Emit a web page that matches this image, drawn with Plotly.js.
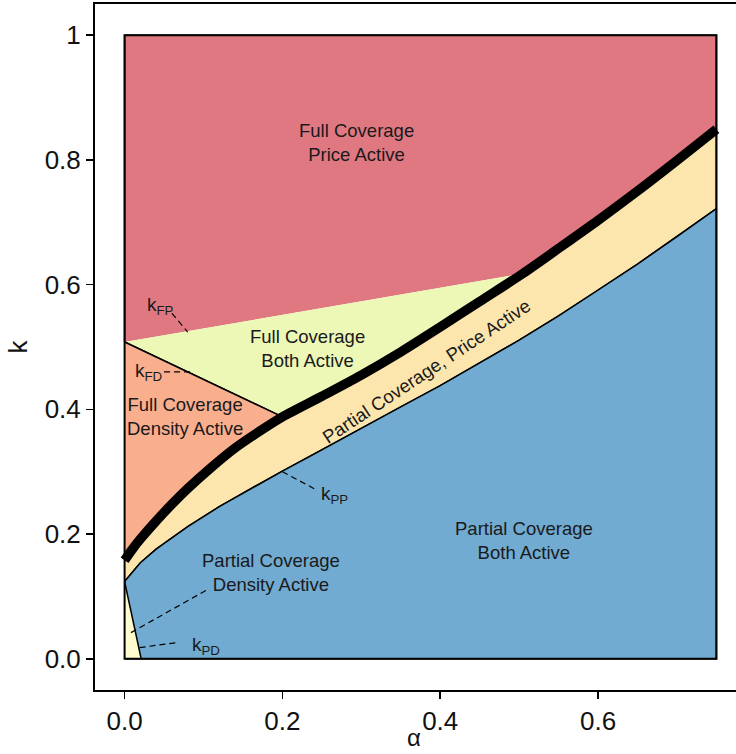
<!DOCTYPE html>
<html>
<head>
<meta charset="utf-8">
<script src="https://cdn.plot.ly/plotly-3.0.1.min.js"></script>
<style>
  html, body { margin: 0; padding: 0; background: #ffffff; overflow: hidden; }
  #chart { width: 750px; height: 754px; }
</style>
</head>
<body>
<div id="chart"></div>
<script>
// Boundary between full and partial coverage (drawn as the heavy line)
const alphaF = [0, 0.01, 0.02, 0.04, 0.06, 0.08, 0.11, 0.14, 0.17, 0.20, 0.25, 0.30, 0.35, 0.40, 0.45, 0.505, 0.55, 0.60, 0.65, 0.70, 0.75];
const kF     = [0.158, 0.176, 0.192, 0.221, 0.248, 0.273, 0.307, 0.338, 0.364, 0.388, 0.421, 0.455, 0.492, 0.532, 0.573, 0.618, 0.658, 0.703, 0.750, 0.799, 0.849];

// k_PP threshold curve
const alphaPP = [0, 0.02, 0.04, 0.08, 0.12, 0.16, 0.20, 0.25, 0.30, 0.35, 0.40, 0.45, 0.50, 0.55, 0.60, 0.65, 0.70, 0.75];
const kPP     = [0.124, 0.154, 0.176, 0.212, 0.244, 0.273, 0.301, 0.335, 0.370, 0.404, 0.438, 0.474, 0.511, 0.550, 0.591, 0.633, 0.677, 0.722];

// Straight thresholds k_FP, k_FD, k_PD (end points)
const alphaFP = [0, 0.505];
const kFPline = [0.508, 0.618];
const alphaFD = [0, 0.20];
const kFDline = [0.508, 0.388];
const alphaPD = [0, 0.021];
const kPDline = [0.124, 0];

// Domain of the diagram
const alphaMax = 0.75;
const kMax = 1;

// Axis ticks
const xTickVals = [0, 0.2, 0.4, 0.6];
const xTickText = ['0.0', '0.2', '0.4', '0.6'];
const yTickVals = [0, 0.2, 0.4, 0.6, 0.8, 1];
const yTickText = ['0.0', '0.2', '0.4', '0.6', '0.8', '1'];

const colors = {
  fullPrice:   '#E07882',
  fullBoth:    '#EDF7B6',
  fullDensity: '#F9AE8E',
  partPrice:   '#FDE6AE',
  partBoth:    '#71ABD1',
  partDensity: '#FFFCCD'
};

const iFP = alphaF.indexOf(alphaFP[1]);
const iFD = alphaF.indexOf(alphaFD[1]);
const rev = a => a.slice().reverse();

function region(x, y, fill) {
  return {
    type: 'scatter', mode: 'lines', x: x, y: y,
    fill: 'toself', fillcolor: fill,
    line: { color: '#000000', width: 1.5 },
    hoverinfo: 'skip'
  };
}

const traces = [
  // Full coverage, price active
  region(
    [alphaFP[0], 0, alphaMax].concat(rev(alphaF.slice(iFP))),
    [kFPline[0], kMax, kMax].concat(rev(kF.slice(iFP))),
    colors.fullPrice),
  // Full coverage, both active
  region(
    [alphaFD[0]].concat(alphaF.slice(iFD, iFP + 1)),
    [kFDline[0]].concat(kF.slice(iFD, iFP + 1)),
    colors.fullBoth),
  // Full coverage, density active
  region(
    [alphaFD[0]].concat(rev(alphaF.slice(0, iFD + 1))),
    [kFDline[0]].concat(rev(kF.slice(0, iFD + 1))),
    colors.fullDensity),
  // Partial coverage, price active
  region(
    alphaF.concat(rev(alphaPP)),
    kF.concat(rev(kPP)),
    colors.partPrice),
  // Partial coverage, both active
  region(
    alphaPP.concat([alphaMax, alphaPD[1]]),
    kPP.concat([0, kPDline[1]]),
    colors.partBoth),
  // Partial coverage, density active
  region(
    [0, alphaPD[1], alphaPD[0]],
    [0, kPDline[1], kPDline[0]],
    colors.partDensity),
  // Heavy full / partial coverage boundary
  {
    type: 'scatter', mode: 'lines', x: alphaF, y: kF,
    line: { color: '#000000', width: 9.5, shape: 'spline', smoothing: 0.8 },
    hoverinfo: 'skip'
  }
];

const fam = 'Liberation Sans, Arial, sans-serif';
const txtFont = { family: fam, size: 18.5, color: '#1a1a1a' };
const kFont = { family: fam, size: 19, color: '#1a1a1a' };
const titleFont = { family: fam, size: 26, color: '#111111' };

function label(x, y, text, font, angle) {
  return { x: x, y: y, xref: 'x', yref: 'y', text: text, showarrow: false,
           font: font, textangle: angle || 0, xanchor: 'center', yanchor: 'middle' };
}

const annotations = [
  label(0.294, 0.828, 'Full Coverage<br>Price Active', txtFont),
  label(0.232, 0.497, 'Full Coverage<br>Both Active', txtFont),
  label(0.077, 0.389, 'Full Coverage<br>Density Active', txtFont),
  label(0.382, 0.461, 'Partial Coverage, Price Active', txtFont, -33.5),
  label(0.506, 0.190, 'Partial Coverage<br>Both Active', txtFont),
  label(0.186, 0.138, 'Partial Coverage<br>Density Active', txtFont),
  label(0.045, 0.566, 'k<sub>FP</sub>', kFont),
  label(0.030, 0.460, 'k<sub>FD</sub>', kFont),
  label(0.266, 0.262, 'k<sub>PP</sub>', kFont),
  label(0.103, 0.020, 'k<sub>PD</sub>', kFont),
  // x-axis title, set below the tick labels
  { x: 0.49, y: -0.0915, xref: 'paper', yref: 'paper', text: 'α', showarrow: false,
    font: { family: fam, size: 24, color: '#111111' }, xanchor: 'center', yanchor: 'bottom' }
];

function leader(x0, y0, x1, y1) {
  return { type: 'line', xref: 'x', yref: 'y', x0: x0, y0: y0, x1: x1, y1: y1,
           line: { color: '#000000', width: 1.2, dash: '6px,4px' } };
}

const shapes = [
  leader(0.060, 0.554, 0.080, 0.524),
  leader(0.050, 0.460, 0.085, 0.460),
  leader(0.200, 0.300, 0.243, 0.271),
  leader(0.019, 0.018, 0.066, 0.026),
  leader(0.008, 0.042, 0.105, 0.111),
  { type: 'rect', xref: 'x', yref: 'y', x0: 0, y0: 0, x1: alphaMax, y1: kMax,
    line: { color: '#000000', width: 2 }, fillcolor: 'rgba(0,0,0,0)' }
];

const axisCommon = {
  showgrid: false, zeroline: false,
  showline: true, linecolor: '#000000', linewidth: 2, mirror: true,
  ticks: 'outside', ticklen: 7, tickwidth: 1.5, tickcolor: '#000000',
  tickfont: { family: fam, size: 26, color: '#111111' }
};

const layout = {
  width: 750, height: 754,
  margin: { l: 95, r: 4, t: 4, b: 64 },
  paper_bgcolor: '#ffffff', plot_bgcolor: '#ffffff',
  showlegend: false,
  xaxis: Object.assign({}, axisCommon, {
    range: [-0.0375, 0.7875],
    tickmode: 'array', tickvals: xTickVals, ticktext: xTickText
  }),
  yaxis: Object.assign({}, axisCommon, {
    range: [-0.05, 1.05],
    tickmode: 'array', tickvals: yTickVals, ticktext: yTickText,
    title: { text: 'k', standoff: 10, font: titleFont }
  }),
  annotations: annotations,
  shapes: shapes
};

Plotly.newPlot('chart', traces, layout, { displayModeBar: false, staticPlot: true });
</script>
</body>
</html>
